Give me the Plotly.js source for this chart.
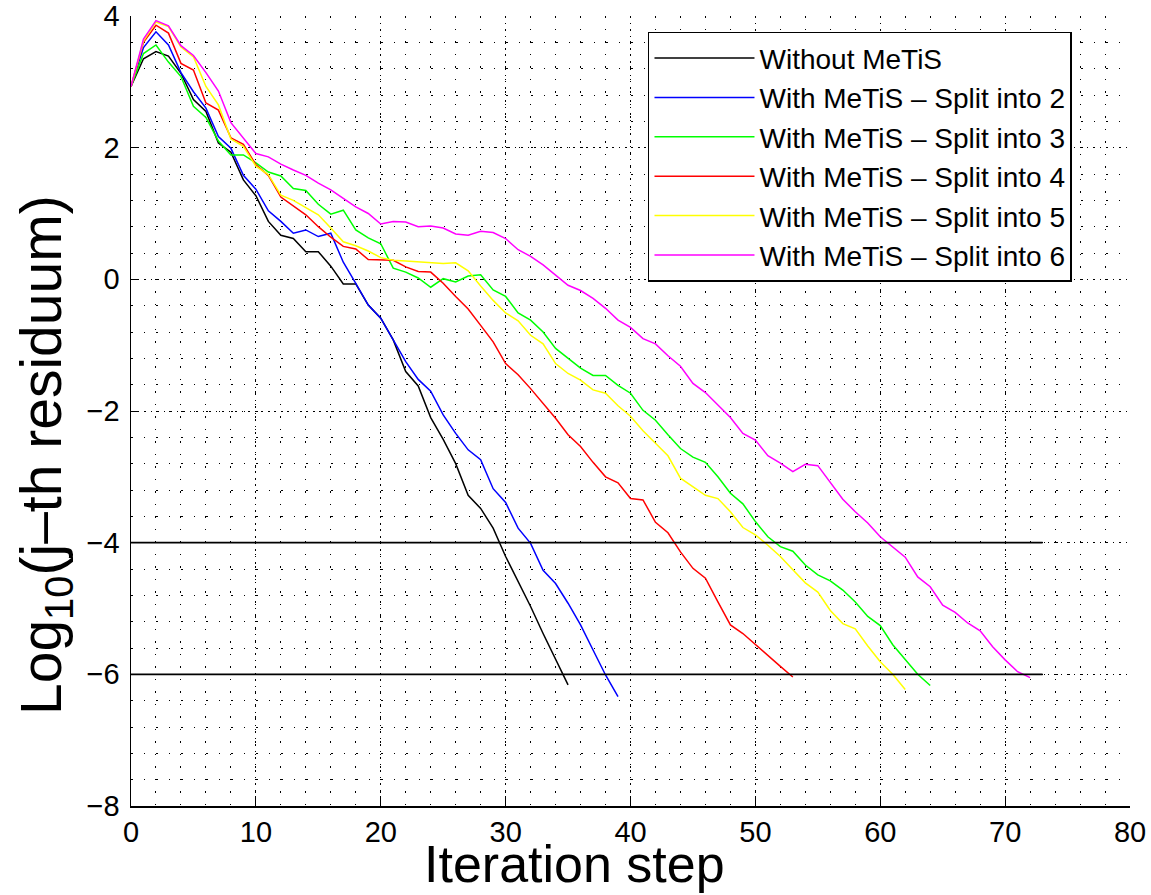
<!DOCTYPE html>
<html>
<head>
<meta charset="utf-8">
<script src="https://cdn.plot.ly/plotly-3.0.1.min.js"></script>
<style>
html,body{margin:0;padding:0;background:#fff;}
#chart{width:1151px;height:895px;}
</style>
</head>
<body>
<div id="chart"></div>
<script>
// Series names
const seriesNames = [
  "Without MeTiS",
  "With MeTiS – Split into 2",
  "With MeTiS – Split into 3",
  "With MeTiS – Split into 4",
  "With MeTiS – Split into 5",
  "With MeTiS – Split into 6"
];
const seriesColors = ["#000000", "#0000ff", "#00ff00", "#ff0000", "#ffff00", "#ff00ff"];

// log10 residuum per iteration step (starting at step 0)
const noMetis = [2.93, 3.35, 3.46, 3.39, 3.13, 2.73, 2.55, 2.07, 1.93, 1.51, 1.27, 0.88, 0.67, 0.62, 0.42, 0.42, 0.20, -0.07, -0.07, -0.39, -0.59, -0.92, -1.40, -1.62, -2.10, -2.43, -2.80, -3.28, -3.48, -3.78, -4.21, -4.59, -4.97, -5.38, -5.76, -6.16];
const split2 = [2.93, 3.52, 3.76, 3.56, 3.14, 2.85, 2.60, 2.17, 1.99, 1.58, 1.37, 1.04, 0.88, 0.70, 0.75, 0.65, 0.70, 0.26, -0.06, -0.39, -0.59, -0.92, -1.25, -1.52, -1.70, -2.06, -2.34, -2.59, -2.74, -3.18, -3.39, -3.78, -4.01, -4.42, -4.62, -4.92, -5.25, -5.63, -6.01, -6.34];
const split3 = [2.93, 3.43, 3.56, 3.30, 3.08, 2.63, 2.46, 2.10, 1.89, 1.89, 1.77, 1.63, 1.57, 1.38, 1.35, 1.14, 0.99, 1.05, 0.75, 0.63, 0.54, 0.17, 0.11, 0.02, -0.12, 0.01, -0.04, 0.05, 0.07, -0.16, -0.26, -0.51, -0.62, -0.80, -1.05, -1.20, -1.35, -1.46, -1.46, -1.61, -1.73, -1.99, -2.14, -2.36, -2.57, -2.70, -2.78, -3.00, -3.25, -3.41, -3.68, -3.91, -4.06, -4.13, -4.34, -4.49, -4.58, -4.72, -4.90, -5.12, -5.26, -5.55, -5.78, -6.00, -6.17];
const split4 = [2.93, 3.60, 3.86, 3.74, 3.28, 3.18, 2.68, 2.57, 2.15, 2.05, 1.74, 1.58, 1.25, 1.12, 0.98, 0.80, 0.64, 0.50, 0.46, 0.30, 0.30, 0.29, 0.19, 0.12, 0.11, -0.06, -0.26, -0.45, -0.70, -0.95, -1.28, -1.45, -1.66, -1.88, -2.11, -2.36, -2.54, -2.78, -3.00, -3.09, -3.33, -3.35, -3.69, -3.85, -4.14, -4.39, -4.54, -4.90, -5.25, -5.38, -5.55, -5.71, -5.88, -6.04];
const split5 = [2.93, 3.62, 3.91, 3.84, 3.53, 3.38, 2.93, 2.65, 2.13, 2.02, 1.72, 1.59, 1.28, 1.20, 1.09, 0.98, 0.78, 0.57, 0.51, 0.43, 0.33, 0.29, 0.28, 0.27, 0.26, 0.24, 0.25, 0.13, -0.10, -0.32, -0.51, -0.63, -0.85, -0.98, -1.28, -1.43, -1.53, -1.68, -1.73, -1.92, -2.08, -2.30, -2.49, -2.68, -3.02, -3.15, -3.28, -3.33, -3.53, -3.77, -3.88, -4.04, -4.21, -4.41, -4.61, -4.75, -5.03, -5.23, -5.31, -5.57, -5.81, -6.00, -6.23];
const split6 = [2.93, 3.65, 3.93, 3.85, 3.55, 3.40, 3.14, 2.86, 2.38, 2.15, 1.91, 1.86, 1.75, 1.66, 1.58, 1.46, 1.36, 1.23, 1.10, 1.00, 0.84, 0.88, 0.87, 0.80, 0.81, 0.78, 0.69, 0.67, 0.73, 0.71, 0.62, 0.45, 0.35, 0.22, 0.07, -0.09, -0.17, -0.29, -0.44, -0.62, -0.73, -0.90, -0.98, -1.16, -1.32, -1.58, -1.72, -1.91, -2.10, -2.34, -2.44, -2.68, -2.79, -2.92, -2.81, -2.83, -3.09, -3.34, -3.53, -3.70, -3.91, -4.06, -4.22, -4.52, -4.67, -4.95, -5.06, -5.22, -5.34, -5.58, -5.78, -5.96, -6.05];

// Tolerance reference lines
const toleranceLevels = [-4, -6];
const toleranceSpan = [0, 73];

const xTicks = [0, 10, 20, 30, 40, 50, 60, 70, 80];
const yTicks = [-8, -6, -4, -2, 0, 2, 4];

const xTitle = "Iteration step";
const yTitle = "Log<sub>10</sub>(j–th residuum)";

const allSeries = [noMetis, split2, split3, split4, split5, split6];

const traces = [];
allSeries.forEach((ys, i) => {
  traces.push({
    x: ys.map((_, k) => k),
    y: ys,
    type: "scatter",
    mode: "lines",
    name: seriesNames[i],
    legendgroup: "g" + i,
    line: {color: seriesColors[i], width: 1.5},
    showlegend: true
  });
});
toleranceLevels.forEach((lv) => {
  traces.push({
    x: toleranceSpan,
    y: [lv, lv],
    type: "scatter",
    mode: "lines",
    line: {color: "#000000", width: 1.6},
    showlegend: false,
    hoverinfo: "skip"
  });
});

const fontFam = "Liberation Sans, Arial, Helvetica, sans-serif";
const gridDotMajor = "1.5px,5px";
const gridDotMinor = "1.5px,11px";

const layout = {
  width: 1151,
  height: 895,
  margin: {l: 131, r: 21, t: 16, b: 89},
  paper_bgcolor: "#ffffff",
  plot_bgcolor: "#ffffff",
  font: {family: fontFam, color: "#000000", size: 29},
  showlegend: true,
  xaxis: {
    range: [0, 80],
    tickmode: "array",
    tickvals: xTicks,
    ticktext: xTicks.map(String),
    ticks: "inside",
    ticklen: 8,
    tickwidth: 1,
    tickcolor: "#000000",
    showline: true,
    linecolor: "#000000",
    linewidth: 1.5,
    mirror: false,
    zeroline: false,
    showgrid: true,
    gridcolor: "#000000",
    gridwidth: 1,
    griddash: gridDotMajor,
    minor: {dtick: 2, showgrid: true, gridcolor: "#000000", gridwidth: 1, griddash: gridDotMinor, ticks: ""},
    tickfont: {size: 29, family: fontFam, color: "#000"},
    automargin: false,
    fixedrange: true
  },
  yaxis: {
    range: [-8, 4],
    tickmode: "array",
    tickvals: yTicks,
    ticktext: yTicks.map(v => v < 0 ? "\u2212" + Math.abs(v) : String(v)),
    ticks: "inside",
    ticklen: 8,
    tickwidth: 1,
    tickcolor: "#000000",
    showline: true,
    linecolor: "#000000",
    linewidth: 1.5,
    mirror: false,
    zeroline: false,
    showgrid: true,
    gridcolor: "#000000",
    gridwidth: 1,
    griddash: gridDotMajor,
    minor: {dtick: 0.4, showgrid: true, gridcolor: "#000000", gridwidth: 1, griddash: gridDotMinor, ticks: ""},
    tickfont: {size: 29, family: fontFam, color: "#000"},
    ticklabelstandoff: 4,
    automargin: false,
    fixedrange: true
  },
  annotations: [
    {
      text: xTitle, xref: "paper", yref: "paper",
      x: 0.4444, y: -0.0735, xanchor: "center", yanchor: "middle",
      showarrow: false, font: {size: 52, family: fontFam, color: "#000"}
    },
    {
      text: yTitle, xref: "paper", yref: "paper",
      x: -0.0861, y: 0.4443, xanchor: "center", yanchor: "middle",
      textangle: -90,
      showarrow: false, font: {size: 57, family: fontFam, color: "#000"}
    }
  ],
  legend: {
    x: 0.5175,
    y: 0.98,
    xanchor: "left",
    yanchor: "top",
    bgcolor: "#ffffff",
    bordercolor: "#000000",
    borderwidth: 1.5,
    font: {size: 28, family: fontFam, color: "#000"},
    tracegroupgap: 0,
    itemwidth: 100
  }
};

Plotly.newPlot("chart", traces, layout, {displayModeBar: false, staticPlot: true});
</script>
</body>
</html>
